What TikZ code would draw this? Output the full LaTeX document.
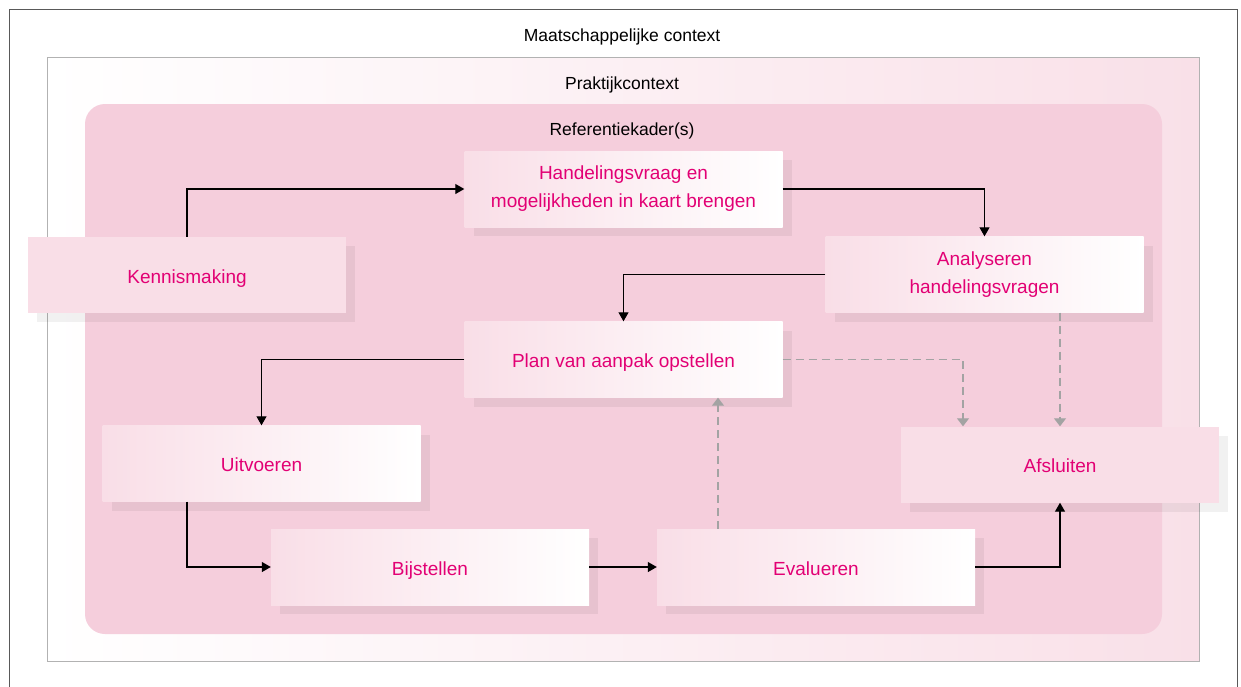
\documentclass[tikz,border=0pt]{standalone}
\usepackage{fontspec}
\setmainfont{Liberation Sans}
\usetikzlibrary{arrows.meta,shadows,calc}
\definecolor{mag}{HTML}{E20074}
\definecolor{boxpink}{HTML}{F9DEE7}
\definecolor{refpink}{HTML}{F5CEDC}
\definecolor{prakpink}{HTML}{F9E0E8}
\definecolor{dashgrey}{HTML}{A3A3A3}
\newcommand{\boxstrut}{\rule[-4pt]{0pt}{24pt}}
\tikzset{
  stepbox/.style={minimum width=318pt, minimum height=76pt, inner sep=0pt, align=center,
    text=mag, font=\fontsize{19}{28}\selectfont,
    execute at begin node=\boxstrut, execute at end node=\boxstrut,
    general shadow={fill=black, fill opacity=0.055, shadow xshift=9pt, shadow yshift=-9pt}},
  gradbox/.style={stepbox, left color=boxpink, right color=white},
  flatbox/.style={stepbox, fill=boxpink},
  lbl/.style={font=\fontsize{17.5}{20}\selectfont, text=black, inner sep=0pt, anchor=base},
  arr/.style={line width=1.1pt, black, -{Triangle[length=9pt,width=10pt]}},
  darr/.style={line width=1.2pt, dashgrey, dash pattern=on 8pt off 5pt, -{Triangle[length=8pt,width=12pt]}}
}
\begin{document}
\begin{tikzpicture}[x=1pt,y=-1pt]
\useasboundingbox (0,0) rectangle (1241,686);
% outer frame (open at the bottom)
\draw[line width=1pt, color=black!65] (9,700) -- (9,9) -- (1237,9) -- (1237,700);
\node[lbl] (maat) at (622,41) {Maatschappelijke context};
% praktijkcontext
\path[left color=white, right color=prakpink, draw=black!30, line width=1pt] (47,57) rectangle (1199,661);
\node[lbl] (prak) at (622,89) {Praktijkcontext};
% referentiekader
\fill[refpink, rounded corners=20pt] (85,104) rectangle (1162,634);
\node[lbl] (ref) at (622,135) {Referentiekader(s)};
% steps
\node[flatbox] (kenn) at (187,275) {Kennismaking};
\node[gradbox] (hand) at (623.5,189) {Handelingsvraag en\\mogelijkheden in kaart brengen};
\node[gradbox] (anal) at (984.5,274.5) {Analyseren\\handelingsvragen};
\node[gradbox] (plan) at (623.5,359.5) {Plan van aanpak opstellen};
\node[gradbox] (uitv) at (261.5,463.5) {Uitvoeren};
\node[gradbox] (bijs) at (430,567) {Bijstellen};
\node[gradbox] (eval) at (816,567) {Evalueren};
\node[flatbox] (afsl) at (1060,464.5) {Afsluiten};
% connectors
\draw[arr] (kenn.north) |- (hand.west);
\draw[arr] (hand.east) -| (anal.north);
\draw[arr] (anal.west) -| (plan.north);
\draw[arr] (plan.west) -| (uitv.north);
\coordinate (u1) at ([xshift=-74.5pt]uitv.south);
\draw[arr] (u1) |- (bijs.west);
\draw[arr] (bijs.east) -- (eval.west);
\draw[arr] (eval.east) -| (afsl.south);
% dashed connectors
\coordinate (e1) at ([xshift=-98pt]eval.north);
\draw[darr] (e1) -- (e1 |- plan.south);
\coordinate (a1) at ([xshift=-97pt]afsl.north);
\draw[darr] (plan.east) -| (a1);
\draw[darr] (anal.south -| afsl.north) -- (afsl.north);
\end{tikzpicture}
\end{document}
